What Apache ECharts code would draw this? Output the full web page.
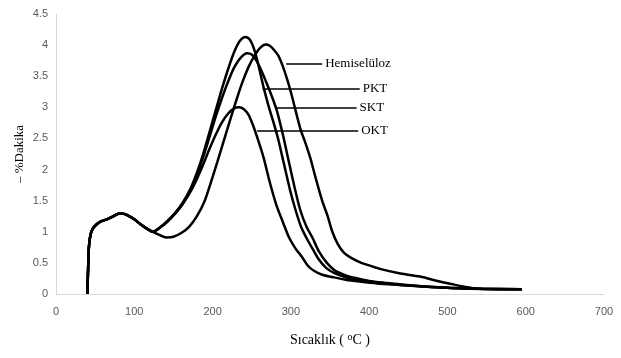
<!DOCTYPE html>
<html>
<head>
<meta charset="utf-8">
<script src="https://cdn.jsdelivr.net/npm/echarts@6/dist/echarts.min.js"></script>
<style>html,body{margin:0;padding:0;background:#fff}#c{width:621px;height:358px}</style>
</head>
<body>
<div id="c"></div>
<script>
var xTicks = [0, 700, 100];
var yTicks = [0, 4.5, 0.5];
var seriesNames = ['Hemiselüloz', 'PKT', 'SKT', 'OKT'];

var commonStart = [[40,0],[41,0.4],[42,0.75],[44,0.95],[47,1.05],[52,1.12],[58,1.17],[65,1.2],[72,1.24],[80,1.29],[86,1.29],[92,1.26],[100,1.2],[108,1.12],[116,1.05],[124,1.0]];

var hemiData = [[132,0.95],[141,0.91],[150,0.92],[160,0.98],[170,1.08],[180,1.25],[190,1.5],[198,1.8],[206,2.12],[214,2.45],[222,2.78],[230,3.1],[238,3.4],[246,3.65],[254,3.84],[261,3.96],[268,4.01],[273,3.99],[278,3.93],[284,3.83],[290,3.65],[296,3.42],[302,3.15],[308,2.85],[313,2.62],[318,2.45],[325,2.18],[332,1.85],[340,1.5],[347,1.25],[353,1.0],[360,0.8],[368,0.66],[377,0.58],[390,0.5],[400,0.46],[415,0.4],[440,0.33],[465,0.28],[490,0.2],[505,0.16],[520,0.12],[541,0.085],[595,0.075]];

var pktData = [[132,1.06],[142,1.17],[152,1.3],[162,1.47],[172,1.7],[180,1.95],[188,2.25],[196,2.6],[204,2.95],[212,3.3],[220,3.62],[228,3.9],[235,4.07],[242,4.13],[248,4.08],[254,3.9],[260,3.6],[266,3.28],[272,3.0],[278,2.75],[284,2.48],[291,2.1],[299,1.67],[306,1.35],[313,1.08],[320,0.9],[328,0.72],[336,0.55],[345,0.42],[355,0.34],[370,0.27],[385,0.23],[400,0.2],[420,0.17],[445,0.14],[470,0.12],[500,0.1],[530,0.085],[595,0.075]];

var sktData = [[132,1.06],[142,1.16],[152,1.29],[162,1.45],[172,1.68],[180,1.92],[188,2.2],[196,2.52],[204,2.85],[212,3.15],[220,3.42],[228,3.65],[236,3.8],[244,3.87],[250,3.85],[256,3.75],[262,3.6],[268,3.42],[275,3.2],[282,2.95],[290,2.55],[297,2.15],[305,1.7],[312,1.35],[320,1.08],[327,0.92],[336,0.68],[346,0.5],[356,0.38],[370,0.3],[385,0.25],[400,0.21],[420,0.18],[445,0.15],[470,0.12],[500,0.1],[530,0.085],[595,0.075]];

var oktData = [[132,1.06],[142,1.16],[152,1.29],[162,1.45],[172,1.65],[180,1.85],[188,2.08],[196,2.33],[204,2.56],[212,2.76],[220,2.9],[227,2.98],[234,3.0],[240,2.97],[246,2.88],[252,2.7],[258,2.48],[265,2.2],[273,1.8],[281,1.45],[290,1.15],[298,0.9],[306,0.73],[314,0.6],[322,0.45],[330,0.37],[340,0.31],[354,0.27],[370,0.23],[388,0.2],[410,0.17],[439,0.145],[470,0.12],[503,0.1],[545,0.085],[595,0.075]];

// label leader lines: [name, yValue, xFrom, xTo]
var leaders = [
  ['Hemiselüloz', 3.70, 294, 340],
  ['PKT', 3.30, 264, 388],
  ['SKT', 3.00, 282, 384],
  ['OKT', 2.62, 257, 386]
];

var allData = [hemiData, pktData, sktData, oktData];
var chart = echarts.init(document.getElementById('c'));
var serif = '"Liberation Serif", "Times New Roman", serif';

var series = seriesNames.map(function (name, i) {
  var ld = leaders[i];
  return {
    name: name,
    type: 'line',
    data: commonStart.concat(allData[i]),
    smooth: 0.3,
    showSymbol: false,
    symbol: 'none',
    lineStyle: { color: '#000', width: 2.5 },
    z: 3,
    markLine: {
      silent: true,
      symbol: 'none',
      lineStyle: { color: '#000', width: 1.5, type: 'solid' },
      label: {
        show: true, position: 'end', formatter: ld[0], distance: 3,
        color: '#000', fontFamily: serif, fontSize: 13
      },
      data: [[{ coord: [ld[2], ld[1]] }, { coord: [ld[3], ld[1]] }]]
    }
  };
});

chart.setOption({
  backgroundColor: '#fff',
  animation: false,
  grid: { left: 56, right: 17, top: 14, bottom: 64, outerBoundsMode: 'none' },
  xAxis: {
    type: 'value', min: xTicks[0], max: xTicks[1], interval: xTicks[2],
    name: '{t|Sıcaklık ( }{s|o}{t|C )}',
    nameLocation: 'middle', nameGap: 38,
    nameTextStyle: {
      rich: {
        t: { fontFamily: serif, fontSize: 14, color: '#000' },
        s: { fontFamily: serif, fontSize: 10, color: '#000', verticalAlign: 'top', padding: [0, 0, 6, 0] }
      }
    },
    axisLine: { lineStyle: { color: '#d9d9d9', width: 1 } },
    axisTick: { show: false },
    axisLabel: { color: '#595959', fontFamily: '"Liberation Sans", Arial, sans-serif', fontSize: 11, margin: 12 },
    splitLine: { show: false }
  },
  yAxis: {
    type: 'value', min: yTicks[0], max: yTicks[1], interval: yTicks[2],
    name: '– %Dakika', nameLocation: 'middle', nameGap: 30,
    nameMoveOverlap: false,
    nameTextStyle: { fontFamily: serif, fontSize: 13, color: '#000' },
    axisLine: { show: true, lineStyle: { color: '#d9d9d9', width: 1 } },
    axisTick: { show: false },
    axisLabel: { color: '#595959', fontFamily: '"Liberation Sans", Arial, sans-serif', fontSize: 11, margin: 8 },
    splitLine: { show: false }
  },
  series: series
});
</script>
</body>
</html>
